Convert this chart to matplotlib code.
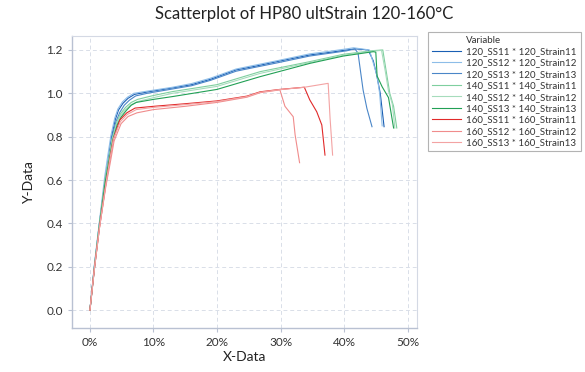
"""Scatterplot of HP80 ultStrain 120-160 degC: stress-strain style curves per specimen."""

import matplotlib

matplotlib.use("Agg")
import matplotlib.pyplot as plt
from matplotlib.lines import Line2D
from matplotlib.ticker import MultipleLocator, PercentFormatter

plt.rcParams["font.family"] = ["Lato", "DejaVu Sans"]

# --- data (x in %, y unitless)
x_120_ss11 = [0, 0.7, 1.5, 2.4, 2.9, 3.4, 4.0, 4.5, 5.2, 6.0, 7.0, 9.0, 13.0, 16.0, 19.0,
              23.0, 26.0, 29.4, 34.6, 38.0, 40.4, 41.8, 43.8, 44.6, 45.1, 45.7, 46.3]
y_120_ss11 = [0, 0.20, 0.40, 0.60, 0.70, 0.80, 0.88, 0.923, 0.954, 0.977, 0.995, 1.006,
              1.025, 1.04, 1.065, 1.108, 1.125, 1.146, 1.177, 1.19, 1.2, 1.205, 1.2, 1.15,
              1.09, 1.0, 0.846]

x_120_ss12 = [0, 0.7, 1.5, 2.3, 2.8, 3.3, 3.9, 4.4, 5.1, 5.9, 6.9, 9.0, 13.0, 16.0, 19.0,
              23.0, 26.0, 29.4, 34.6, 38.0, 40.4, 41.5, 44.0, 44.6, 45.2, 45.6, 46.0]
y_120_ss12 = [0, 0.21, 0.41, 0.61, 0.71, 0.805, 0.885, 0.928, 0.96, 0.982, 1.0, 1.01,
              1.028, 1.045, 1.07, 1.112, 1.13, 1.15, 1.182, 1.195, 1.205, 1.21, 1.2, 1.14,
              1.08, 1.0, 0.85]

x_120_ss13 = [0, 0.7, 1.5, 2.4, 3.0, 3.5, 4.1, 4.7, 5.4, 6.2, 7.2, 9.0, 13.0, 16.0, 19.0,
              23.0, 26.0, 29.4, 34.6, 38.0, 40.4, 41.7, 42.2, 42.6, 43.0, 43.6, 44.4]
y_120_ss13 = [0, 0.20, 0.40, 0.60, 0.70, 0.80, 0.87, 0.912, 0.945, 0.968, 0.988, 1.0,
              1.02, 1.035, 1.06, 1.102, 1.12, 1.14, 1.172, 1.186, 1.196, 1.205, 1.186, 1.1,
              1.015, 0.93, 0.846]

x_140_ss11 = [0, 0.7, 1.5, 2.4, 3.0, 3.5, 4.2, 4.8, 5.6, 6.5, 7.5, 10.0, 13.0, 20.0, 26.8,
              34.6, 39.9, 44.6, 46.1, 46.7, 47.2, 47.8, 48.3]
y_140_ss11 = [0, 0.20, 0.40, 0.60, 0.70, 0.79, 0.865, 0.905, 0.935, 0.958, 0.972, 0.99,
              1.008, 1.04, 1.1, 1.146, 1.18, 1.197, 1.2, 1.09, 1.0, 0.94, 0.84]

x_140_ss12 = [0, 0.7, 1.5, 2.4, 3.0, 3.5, 4.2, 4.8, 5.6, 6.5, 7.5, 10.0, 13.0, 20.0, 26.8,
              34.6, 39.9, 44.6, 45.9, 46.5, 47.0, 47.6, 48.0]
y_140_ss12 = [0, 0.20, 0.40, 0.60, 0.70, 0.785, 0.86, 0.897, 0.925, 0.948, 0.962, 0.98,
              1.0, 1.032, 1.092, 1.142, 1.176, 1.195, 1.198, 1.1, 1.01, 0.95, 0.84]

x_140_ss13 = [0, 0.7, 1.5, 2.4, 3.0, 3.6, 4.3, 4.9, 5.7, 6.5, 7.3, 10.0, 13.0, 20.0, 26.8,
              34.6, 39.9, 44.6, 45.0, 45.2, 46.0, 47.0, 47.8]
y_140_ss13 = [0, 0.19, 0.39, 0.59, 0.69, 0.785, 0.855, 0.89, 0.92, 0.945, 0.958, 0.972,
              0.985, 1.018, 1.077, 1.138, 1.172, 1.192, 1.19, 1.08, 1.03, 0.98, 0.84]

x_160_ss11 = [0, 0.7, 1.5, 2.5, 3.1, 3.7, 4.7, 5.8, 7.1, 10.0, 15.0, 20.0, 24.7, 26.8,
              29.9, 33.75, 34.6, 35.7, 36.5, 37.0]
y_160_ss11 = [0, 0.19, 0.38, 0.58, 0.69, 0.79, 0.877, 0.91, 0.932, 0.94, 0.952, 0.965,
              0.987, 1.007, 1.018, 1.028, 0.97, 0.915, 0.854, 0.715]

x_160_ss12 = [0, 0.7, 1.5, 2.5, 3.2, 3.8, 4.9, 6.0, 7.4, 10.0, 15.0, 20.0, 24.7, 26.8,
              29.9, 30.7, 32.0, 32.3, 33.0]
y_160_ss12 = [0, 0.19, 0.38, 0.57, 0.68, 0.78, 0.86, 0.893, 0.91, 0.925, 0.94, 0.958,
              0.982, 1.003, 1.016, 0.94, 0.892, 0.808, 0.68]

x_160_ss13 = [0, 0.7, 1.5, 2.5, 3.1, 3.7, 4.8, 5.9, 7.3, 10.0, 15.0, 20.0, 24.7, 26.8,
              29.9, 33.75, 37.5, 37.8, 38.2]
y_160_ss13 = [0, 0.19, 0.38, 0.58, 0.69, 0.79, 0.87, 0.903, 0.925, 0.935, 0.948, 0.962,
              0.985, 1.005, 1.017, 1.028, 1.046, 0.885, 0.715]

labels = [
    "120_SS11 * 120_Strain11", "120_SS12 * 120_Strain12", "120_SS13 * 120_Strain13",
    "140_SS11 * 140_Strain11", "140_SS12 * 140_Strain12", "140_SS13 * 140_Strain13",
    "160_SS11 * 160_Strain11", "160_SS12 * 160_Strain12", "160_SS13 * 160_Strain13",
]
xs = [x_120_ss11, x_120_ss12, x_120_ss13, x_140_ss11, x_140_ss12, x_140_ss13,
      x_160_ss11, x_160_ss12, x_160_ss13]
ys = [y_120_ss11, y_120_ss12, y_120_ss13, y_140_ss11, y_140_ss12, y_140_ss13,
      y_160_ss11, y_160_ss12, y_160_ss13]
colors = ["#1a5fb4", "#8dbde8", "#4a86c8",
          "#7fcf9f", "#a6dcbc", "#22a055",
          "#e12a2a", "#f08c8c", "#f3a3a3"]

fig = plt.figure(figsize=(5.85, 3.72), dpi=100)
ax = fig.add_axes([0.123, 0.118, 0.590, 0.785])

lines = []
for x, y, c, lab in zip(xs, ys, colors, labels):
    (ln,) = ax.plot(x, y, color=c, linewidth=0.8, label=lab)
    lines.append(ln)

ax.set_xlim(-2.83, 51.5)
ax.set_ylim(-0.083, 1.264)
ax.xaxis.set_major_locator(MultipleLocator(10))
ax.xaxis.set_major_formatter(PercentFormatter(100, decimals=0))
ax.yaxis.set_major_locator(MultipleLocator(0.2))
ax.yaxis.set_major_formatter(lambda v, _: f"{v:.1f}")

ax.grid(True, color="#d9dee8", linestyle=(0, (4, 3)), linewidth=0.7)
ax.set_axisbelow(True)
for side in ("top", "right"):
    ax.spines[side].set_color("#d4d9e4")
for side in ("left", "bottom"):
    ax.spines[side].set_color("#b9c1d2")
    ax.spines[side].set_linewidth(1.0)
ax.tick_params(colors="#b9c1d2", labelcolor="#333333", labelsize=8.5, length=3)

ax.set_xlabel("X-Data", fontsize=10, color="#222222", labelpad=2)
ax.set_ylabel("Y-Data", fontsize=10, color="#222222", labelpad=8)
fig.suptitle("Scatterplot of HP80 ultStrain 120-160°C", fontsize=12, x=0.52, y=0.985,
             color="#222222")

title_handle = Line2D([], [], linestyle="none")
leg = fig.legend([title_handle] + lines, ["Variable"] + labels,
                 loc="upper left", bbox_to_anchor=(0.732, 0.915),
                 fontsize=7, frameon=True, fancybox=False, edgecolor="#a0a0a0",
                 handlelength=3.0, handletextpad=0.5, labelspacing=0.25,
                 borderpad=0.4, borderaxespad=0)
leg.get_frame().set_linewidth(0.8)
for txt in leg.get_texts():
    txt.set_color("#333333")

fig.savefig("out.png", dpi=100)
